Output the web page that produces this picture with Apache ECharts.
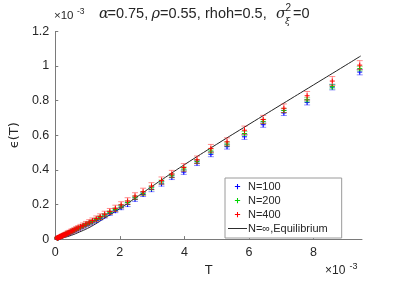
<!DOCTYPE html>
<html><head><meta charset="utf-8">
<script src="https://cdn.jsdelivr.net/npm/echarts@6/dist/echarts.min.js"></script>
<style>html,body{margin:0;padding:0;background:#fff}#c{width:399px;height:282px}</style>
</head><body><div id="c"></div>
<script>
// T values (units of 1e-3)
const T = [0.06,0.07,0.08,0.09,0.10,0.11,0.12,0.13,0.14,0.16,0.17,0.19,0.21,0.23,0.25,0.28,0.30,0.33,0.37,0.40,0.44,0.49,0.54,0.59,0.65,0.71,0.78,0.86,0.95,1.05,1.15,1.27,1.39,1.53,1.69,1.86,2.04,2.24,2.47,2.72,2.98,3.29,3.61,3.98,4.39,4.82,5.32,5.86,6.44,7.08,7.80,8.58,9.43];
// epsilon(T) values (units of 1e-3) and error half-widths
const vN100 = [0.005,0.005,0.006,0.007,0.008,0.009,0.009,0.010,0.011,0.013,0.014,0.015,0.017,0.019,0.021,0.023,0.025,0.027,0.030,0.033,0.036,0.041,0.045,0.049,0.054,0.059,0.065,0.072,0.080,0.089,0.098,0.108,0.120,0.133,0.148,0.164,0.182,0.200,0.230,0.258,0.287,0.319,0.357,0.387,0.439,0.490,0.534,0.591,0.661,0.729,0.790,0.878,0.965];
const eN100 = [0.004,0.004,0.004,0.004,0.004,0.004,0.004,0.004,0.005,0.005,0.005,0.005,0.005,0.005,0.006,0.006,0.006,0.006,0.006,0.007,0.007,0.007,0.007,0.008,0.008,0.008,0.008,0.009,0.009,0.009,0.010,0.010,0.010,0.011,0.011,0.011,0.012,0.012,0.012,0.012,0.013,0.013,0.013,0.013,0.014,0.014,0.014,0.015,0.015,0.015,0.015,0.016,0.016];
const vN200 = [0.005,0.006,0.007,0.008,0.009,0.009,0.010,0.011,0.012,0.014,0.015,0.016,0.018,0.020,0.022,0.024,0.026,0.029,0.032,0.035,0.038,0.043,0.047,0.052,0.057,0.062,0.069,0.076,0.084,0.093,0.102,0.113,0.125,0.139,0.154,0.171,0.190,0.211,0.239,0.264,0.296,0.330,0.366,0.405,0.448,0.509,0.549,0.610,0.680,0.743,0.805,0.881,0.985];
const eN200 = [0.003,0.003,0.003,0.003,0.003,0.003,0.004,0.004,0.004,0.004,0.004,0.004,0.004,0.005,0.005,0.005,0.005,0.005,0.005,0.006,0.006,0.006,0.006,0.006,0.007,0.007,0.007,0.007,0.008,0.008,0.008,0.008,0.009,0.009,0.009,0.009,0.010,0.010,0.010,0.010,0.011,0.011,0.011,0.011,0.011,0.012,0.012,0.012,0.012,0.012,0.012,0.013,0.013];
const vN400 = [0.005,0.006,0.007,0.008,0.009,0.010,0.011,0.012,0.013,0.014,0.015,0.017,0.019,0.021,0.023,0.025,0.027,0.030,0.034,0.037,0.040,0.045,0.049,0.054,0.060,0.065,0.072,0.079,0.088,0.097,0.107,0.118,0.130,0.144,0.160,0.178,0.198,0.220,0.249,0.274,0.306,0.338,0.376,0.414,0.458,0.524,0.562,0.629,0.691,0.756,0.828,0.913,1.005];
const eN400 = [0.006,0.006,0.006,0.006,0.007,0.007,0.007,0.007,0.008,0.008,0.008,0.008,0.009,0.009,0.009,0.010,0.010,0.010,0.011,0.011,0.011,0.012,0.012,0.012,0.013,0.013,0.013,0.014,0.014,0.015,0.015,0.016,0.016,0.017,0.017,0.018,0.018,0.019,0.019,0.020,0.020,0.021,0.021,0.022,0.022,0.023,0.023,0.024,0.024,0.025,0.025,0.026,0.026];
// Equilibrium (N = infinity) curve
const lineT = [0,0.25,0.5,0.75,1,1.25,1.5,1.75,2,2.5,3,3.5,4,5,6,7,8,9,9.46];
const lineV = [0,0.008,0.022,0.041,0.062,0.088,0.118,0.147,0.176,0.240,0.305,0.368,0.430,0.548,0.663,0.777,0.891,1.005,1.058];
const xTicks = [0,2,4,6,8];
const yTicks = [0,0.2,0.4,0.6,0.8,1,1.2];
const names = ['N=100','N=200','N=400','N=\u221e,Equilibrium'];
const colors = ['#0000ff','#00d400','#ff0000','#000000'];

const FONT = 'Liberation Sans, Arial, Helvetica, sans-serif';
const GREEK = 'DejaVu Serif, serif';
const TXT = '#262626';
const AX = '#7a7a7a';
const chart = echarts.init(document.getElementById('c'));

function errSeries(name, color, vals, errs) {
  return {
    type: 'custom', name: name, itemStyle: {color: color}, clip: false,
    data: T.map((t, i) => [t, vals[i], errs[i]]),
    renderItem: function (params, api) {
      const x = api.value(0), y = api.value(1), e = api.value(2);
      const p = api.coord([x, y]), pt = api.coord([x, y + e]), pb = api.coord([x, y - e]);
      const cw = 3, mw = 2.5;
      const bar = {stroke: color, lineWidth: 1, opacity: 0.45};
      const mk = {stroke: color, lineWidth: 1};
      return {type: 'group', children: [
        {type: 'line', shape: {x1: p[0], y1: pt[1], x2: p[0], y2: pb[1]}, style: bar},
        {type: 'line', shape: {x1: p[0] - cw, y1: pt[1], x2: p[0] + cw, y2: pt[1]}, style: bar},
        {type: 'line', shape: {x1: p[0] - cw, y1: pb[1], x2: p[0] + cw, y2: pb[1]}, style: bar},
        {type: 'line', shape: {x1: p[0] - mw, y1: p[1], x2: p[0] + mw, y2: p[1]}, style: mk},
        {type: 'line', shape: {x1: p[0], y1: p[1] - mw, x2: p[0], y2: p[1] + mw}, style: mk}
      ]};
    }
  };
}

// small thin cross inside a 10x10 box (tiny corner dots fix the box size)
const cross = 'path://M0,0h0.02v0.02h-0.02Z M10,10h-0.02v-0.02h0.02Z M4.5,2.5H5.5V4.5H7.5V5.5H5.5V7.5H4.5V5.5H2.5V4.5H4.5Z';
const dash = 'path://M0,0H20V1H0Z';

function txt(x, y, s, font) {
  return {type: 'text', x: x, y: y, style: {text: s, font: font, fill: TXT, verticalAlign: 'middle', align: 'left'}};
}

chart.setOption({
  animation: false,
  textStyle: {fontFamily: FONT},
  grid: {left: 52, right: 37, top: 31.4, bottom: 40, containLabel: false},
  xAxis: {
    type: 'value', min: 0, max: 9.5, interval: 2,
    name: 'T', nameLocation: 'middle', nameGap: 20,
    nameTextStyle: {fontSize: 13, color: TXT, fontFamily: FONT},
    axisLine: {show: true, lineStyle: {color: AX, width: 1}},
    axisTick: {show: true, inside: true, length: 3, customValues: xTicks, lineStyle: {color: AX}},
    axisLabel: {customValues: xTicks, color: TXT, fontSize: 12.5, margin: 7, fontFamily: FONT},
    splitLine: {show: false}
  },
  yAxis: {
    type: 'value', min: 0, max: 1.2, interval: 0.2,
    name: '\u03f5(T)', nameLocation: 'middle', nameGap: 24, nameRotate: 90,
    nameTextStyle: {fontSize: 13, color: TXT, fontFamily: 'DejaVu Sans, ' + FONT},
    axisLine: {show: true, lineStyle: {color: AX, width: 1}},
    axisTick: {show: true, inside: true, length: 3, customValues: yTicks, lineStyle: {color: AX}},
    axisLabel: {customValues: yTicks, color: TXT, fontSize: 12.5, margin: 6, fontFamily: FONT,
      formatter: v => String(Math.round(v * 10) / 10)},
    splitLine: {show: false}
  },
  legend: {
    orient: 'vertical', left: 225, top: 178, itemGap: 3, itemWidth: 19, itemHeight: 10.5,
    padding: [3, 14, 4, 3], backgroundColor: '#fff', borderColor: '#9a9a9a', borderWidth: 1,
    textStyle: {fontSize: 11, color: TXT, fontFamily: FONT, padding: [0, 0, 0, -4]},
    data: [
      {name: names[0], icon: cross, itemStyle: {color: colors[0]}},
      {name: names[1], icon: cross, itemStyle: {color: colors[1]}},
      {name: names[2], icon: cross, itemStyle: {color: colors[2]}},
      {name: names[3], icon: dash, itemStyle: {color: '#222'}}
    ]
  },
  series: [
    errSeries(names[0], colors[0], vN100, eN100),
    errSeries(names[1], colors[1], vN200, eN200),
    errSeries(names[2], colors[2], vN400, eN400),
    {type: 'line', name: names[3], data: lineT.map((t, i) => [t, lineV[i]]), showSymbol: false,
     smooth: true, lineStyle: {color: '#222', width: 1}, itemStyle: {color: '#222'}, z: 1}
  ],
  graphic: [
    txt(99, 14, '\u03b1', 'italic 14.5px ' + GREEK),
    txt(107.5, 14, '=0.75,', '14.5px ' + FONT),
    txt(151.5, 14, '\u03c1', 'italic 14.5px ' + GREEK),
    txt(160, 14, '=0.55,', '14.5px ' + FONT),
    txt(205, 14, 'rhoh=0.5,', '14.5px ' + FONT),
    txt(276, 14, '\u03c3', 'italic 14.5px ' + GREEK),
    txt(285.5, 8, '2', '10px ' + FONT),
    txt(285, 21.5, '\u03be', 'italic 9.5px ' + GREEK),
    txt(293, 14, '=0', '14.5px ' + FONT),
    txt(54, 16, '\u00d710', '11.5px ' + FONT),
    txt(77, 12, '-3', '8.5px ' + FONT),
    txt(325, 271, '\u00d710', '12px ' + FONT),
    txt(349.5, 266.5, '-3', '9px ' + FONT)
  ]
});
</script></body></html>
